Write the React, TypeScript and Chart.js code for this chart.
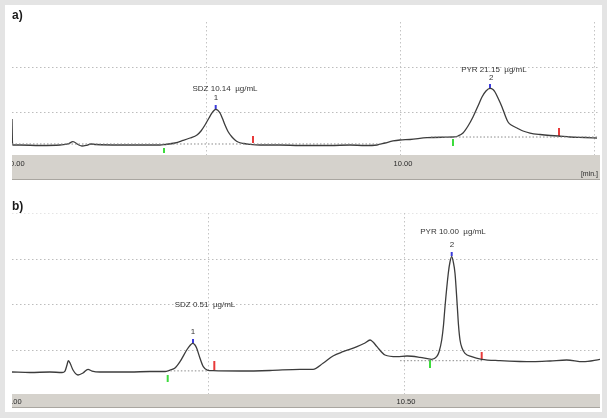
import React, { useEffect, useRef } from "react";
import { Chart, registerables } from "chart.js";

Chart.register(...registerables);

// ---------- Panel a) ----------
const timeA = [0, 0.015, 0.206, 0.722, 1.237, 1.443, 1.572, 1.701, 1.804, 1.907, 2.036, 2.165, 2.784, 3.299, 3.814, 3.943, 4.201, 4.407, 4.588, 4.768, 4.871, 4.974, 5.077, 5.155, 5.206, 5.25, 5.296, 5.361, 5.425, 5.49, 5.567, 5.67, 5.747, 5.825, 5.979, 6.134, 6.392, 6.907, 7.423, 8.196, 8.711, 9.098, 9.407, 9.613, 9.82, 10.0, 10.258, 10.696, 11.16, 11.366, 11.495, 11.624, 11.753, 11.881, 12.01, 12.113, 12.216, 12.32, 12.397, 12.448, 12.526, 12.629, 12.706, 12.784, 12.887, 13.015, 13.17, 13.351, 13.608, 13.866, 14.072, 14.381, 14.768, 15.077];
const signalA = [0.844, 0.267, 0.267, 0.256, 0.267, 0.289, 0.34, 0.278, 0.244, 0.256, 0.289, 0.278, 0.267, 0.267, 0.267, 0.278, 0.311, 0.367, 0.422, 0.489, 0.578, 0.711, 0.867, 0.978, 1.033, 1.06, 1.044, 0.978, 0.856, 0.711, 0.567, 0.444, 0.378, 0.333, 0.3, 0.282, 0.267, 0.267, 0.256, 0.256, 0.267, 0.256, 0.267, 0.311, 0.356, 0.378, 0.389, 0.429, 0.44, 0.444, 0.467, 0.533, 0.689, 0.889, 1.133, 1.333, 1.467, 1.527, 1.5, 1.444, 1.311, 1.111, 0.933, 0.778, 0.7, 0.644, 0.578, 0.533, 0.5, 0.478, 0.467, 0.444, 0.433, 0.422];
const markerTimeA = [3.918, 5.25, 6.211, 11.366, 12.32, 14.098];
const markerLowA = [0.089, 1.067, 0.311, 0.244, 1.533, 0.467];
const markerHighA = [0.2, 1.156, 0.467, 0.4, 1.622, 0.644];
const baseStartA = [0, 10.8];
const baseEndA = [9.5, 15.103];
const baseLevelA = [0.289, 0.444];
const labelTextA = ["SDZ 10.14  \u00b5g/mL", "1", "PYR 21.15  \u00b5g/mL", "2"];
const labelTimeA = [5.49, 5.26, 12.42, 12.35];
const labelLevelA = [1.511, 1.31, 1.933, 1.756];
const xGridA = [5, 10, 15];
const yGridA = [1, 2];
const tickValueA = [0, 10];
const tickTextA = ["0.00", "10.00"];

// ---------- Panel b) ----------
const timeB = [0, 0.459, 0.969, 1.276, 1.352, 1.403, 1.436, 1.48, 1.556, 1.684, 1.811, 1.939, 2.041, 2.245, 3.01, 3.52, 3.903, 4.031, 4.158, 4.286, 4.457, 4.541, 4.61, 4.668, 4.712, 4.796, 4.88, 4.982, 5.135, 5.816, 6.582, 7.347, 7.679, 7.934, 8.189, 8.444, 8.801, 9.005, 9.133, 9.209, 9.311, 9.515, 9.821, 10.077, 10.408, 10.707, 10.834, 10.893, 10.962, 11.008, 11.046, 11.13, 11.173, 11.217, 11.258, 11.301, 11.36, 11.39, 11.429, 11.48, 11.556, 11.727, 11.982, 12.449, 12.959, 13.291, 13.724, 14.15, 14.566, 15.0];
const signalB = [0.505, 0.495, 0.505, 0.495, 0.527, 0.659, 0.754, 0.703, 0.549, 0.44, 0.484, 0.565, 0.527, 0.505, 0.505, 0.516, 0.516, 0.549, 0.593, 0.732, 0.989, 1.088, 1.136, 1.099, 1.026, 0.807, 0.622, 0.549, 0.534, 0.527, 0.538, 0.565, 0.565, 0.697, 0.857, 0.952, 1.062, 1.143, 1.209, 1.165, 1.062, 0.879, 0.842, 0.857, 0.829, 0.785, 0.842, 0.945, 1.209, 1.538, 1.941, 2.675, 2.923, 3.04, 2.923, 2.675, 1.941, 1.538, 1.209, 1.033, 0.916, 0.842, 0.785, 0.754, 0.736, 0.732, 0.747, 0.769, 0.732, 0.785];
const markerTimeB = [3.972, 4.617, 5.161, 10.663, 11.217, 11.982];
const markerLowB = [0.286, 1.143, 0.549, 0.593, 3.055, 0.791];
const markerHighB = [0.44, 1.231, 0.747, 0.769, 3.143, 0.945];
const baseStartB = [3.95, 9.9];
const baseEndB = [5.0, 12.0];
const baseLevelB = [0.53, 0.754];
const labelTextB = ["SDZ 0.51  \u00b5g/mL", "1", "PYR 10.00  \u00b5g/mL", "2"];
const labelTimeB = [4.923, 4.617, 11.25, 11.224];
const labelLevelB = [1.978, 1.391, 3.589, 3.297];
const xGridB = [5, 10];
const yGridB = [1, 2, 3, 4];
const tickValueB = [0, 10];
const tickTextB = ["0.00", "10.50"];

const markerColors = ["#3ddc3d", "#3b3bdc", "#e83a3a", "#3ddc3d", "#3b3bdc", "#e83a3a"];

const FONT = "'Liberation Sans', Arial, sans-serif";

const chromPlugin = {
  id: "chrom",
  beforeDatasetsDraw(chart: any, _a: any, o: any) {
    const { ctx, chartArea: ca } = chart;
    const xs = chart.scales.x;
    const ys = chart.scales.y;
    ctx.save();
    ctx.lineWidth = 1;
    ctx.setLineDash([1.5, 2.5]);
    o.yGrid.forEach((v: number, i: number) => {
      const py = Math.round(ys.getPixelForValue(v)) + 0.5;
      ctx.strokeStyle = o.faintTop && i === o.yGrid.length - 1 ? "#e4e4e4" : "#bdbdbd";
      ctx.beginPath();
      ctx.moveTo(ca.left, py);
      ctx.lineTo(ca.right, py);
      ctx.stroke();
    });
    ctx.strokeStyle = "#c4c4c4";
    o.xGrid.forEach((v: number) => {
      const px = Math.round(xs.getPixelForValue(v)) + 0.5;
      ctx.beginPath();
      ctx.moveTo(px, ca.top);
      ctx.lineTo(px, ca.bottom);
      ctx.stroke();
    });
    ctx.restore();
  },
  afterDatasetsDraw(chart: any, _a: any, o: any) {
    const { ctx, chartArea: ca } = chart;
    const xs = chart.scales.x;
    const ys = chart.scales.y;
    ctx.save();
    // annotation labels
    ctx.fillStyle = "#333";
    ctx.textBaseline = "middle";
    ctx.textAlign = "center";
    o.labelText.forEach((t: string, i: number) => {
      ctx.font = "8px " + FONT;
      ctx.fillText(t, xs.getPixelForValue(o.labelTime[i]), ys.getPixelForValue(o.labelLevel[i]));
    });
    // time-axis band
    const bTop = ca.bottom - o.bandOverlap;
    const bLeft = ca.left;
    const bRight = o.bandRight;
    ctx.fillStyle = "#d5d2cc";
    ctx.fillRect(bLeft, bTop, bRight - bLeft, o.bandHeight);
    ctx.fillStyle = "#a9a6a0";
    ctx.fillRect(bLeft, bTop + o.bandHeight - 1, bRight - bLeft, 1);
    ctx.beginPath();
    ctx.rect(bLeft, bTop, bRight - bLeft, o.bandHeight);
    ctx.clip();
    ctx.fillStyle = "#2a2a2a";
    ctx.font = "7.5px " + FONT;
    ctx.textBaseline = "middle";
    o.tickValue.forEach((v: number, i: number) => {
      ctx.textAlign = i === 0 ? "left" : "center";
      ctx.fillText(o.tickText[i], xs.getPixelForValue(v) + o.tickDx[i], bTop + o.tickDy);
    });
    if (o.unit) {
      ctx.textAlign = "right";
      ctx.font = "7px " + FONT;
      ctx.fillText(o.unit, bRight - 2, bTop + o.bandHeight - 6);
    }
    ctx.restore();
  },
};

function buildConfig(p: any) {
  const datasets: any[] = [];
  p.baseStart.forEach((s: number, i: number) => {
    datasets.push({
      data: [
        { x: s, y: p.baseLevel[i] },
        { x: p.baseEnd[i], y: p.baseLevel[i] },
      ],
      borderColor: "#8a8a8a",
      borderWidth: 1,
      borderDash: [1.5, 2],
      pointRadius: 0,
    });
  });
  datasets.push({
    data: p.time.map((t: number, i: number) => ({ x: t, y: p.signal[i] })),
    borderColor: "#3c3c3c",
    borderWidth: 1.3,
    pointRadius: 0,
    cubicInterpolationMode: "monotone",
  });
  p.markerTime.forEach((t: number, i: number) => {
    datasets.push({
      data: [
        { x: t, y: p.markerLow[i] },
        { x: t, y: p.markerHigh[i] },
      ],
      borderColor: markerColors[i],
      borderWidth: 2,
      pointRadius: 0,
    });
  });
  return {
    type: "line",
    data: { datasets },
    plugins: [chromPlugin],
    options: {
      animation: false,
      responsive: false,
      events: [],
      layout: { padding: p.padding },
      scales: {
        x: { type: "linear", display: false, min: 0, max: p.xMax },
        y: { type: "linear", display: false, min: 0, max: p.yMax },
      },
      plugins: {
        legend: { display: false },
        tooltip: { enabled: false },
        chrom: {
          xGrid: p.xGrid,
          yGrid: p.yGrid,
          faintTop: p.faintTop,
          labelText: p.labelText,
          labelTime: p.labelTime,
          labelLevel: p.labelLevel,
          tickValue: p.tickValue,
          tickText: p.tickText,
          tickDx: p.tickDx,
          tickDy: p.tickDy,
          bandOverlap: p.bandOverlap,
          bandHeight: p.bandHeight,
          bandRight: 600,
          unit: p.unit,
        },
      },
    },
  };
}

export default function App() {
  const refA = useRef<HTMLCanvasElement>(null);
  const refB = useRef<HTMLCanvasElement>(null);

  useEffect(() => {
    const a = new Chart(
      refA.current as HTMLCanvasElement,
      buildConfig({
        time: timeA,
        signal: signalA,
        markerTime: markerTimeA,
        markerLow: markerLowA,
        markerHigh: markerHighA,
        baseStart: baseStartA,
        baseEnd: baseEndA,
        baseLevel: baseLevelA,
        labelText: labelTextA,
        labelTime: labelTimeA,
        labelLevel: labelLevelA,
        xGrid: xGridA,
        yGrid: yGridA,
        faintTop: false,
        tickValue: tickValueA,
        tickText: tickTextA,
        tickDx: [-2, 3],
        tickDy: 9,
        bandOverlap: 2,
        bandHeight: 25,
        unit: "[min.]",
        xMax: 15.103,
        yMax: 3,
        padding: { left: 12, right: 9, top: 22, bottom: 38 },
      }) as any
    );
    const b = new Chart(
      refB.current as HTMLCanvasElement,
      buildConfig({
        time: timeB,
        signal: signalB,
        markerTime: markerTimeB,
        markerLow: markerLowB,
        markerHigh: markerHighB,
        baseStart: baseStartB,
        baseEnd: baseEndB,
        baseLevel: baseLevelB,
        labelText: labelTextB,
        labelTime: labelTimeB,
        labelLevel: labelLevelB,
        xGrid: xGridB,
        yGrid: yGridB,
        faintTop: true,
        tickValue: tickValueB,
        tickText: tickTextB,
        tickDx: [-5, 2],
        tickDy: 8,
        bandOverlap: 1,
        bandHeight: 14,
        unit: "",
        xMax: 15.0,
        yMax: 4,
        padding: { left: 12, right: 7, top: 18, bottom: 23 },
      }) as any
    );
    return () => {
      a.destroy();
      b.destroy();
    };
  }, []);

  const labelStyle: React.CSSProperties = {
    position: "absolute",
    left: 12,
    fontFamily: FONT,
    fontWeight: "bold",
    fontSize: 12,
    color: "#1a1a1a",
    lineHeight: "14px",
  };

  return (
    <div style={{ position: "fixed", left: 0, top: 0, width: 607, height: 418, background: "#e4e4e4", overflow: "hidden" }}>
      <div style={{ position: "absolute", left: 5, top: 5, width: 597, height: 407, background: "#ffffff" }} />
      <canvas ref={refA} width={607} height={195} style={{ position: "absolute", left: 0, top: 0 }} />
      <canvas ref={refB} width={607} height={223} style={{ position: "absolute", left: 0, top: 195 }} />
      <div style={{ ...labelStyle, top: 8 }}>a)</div>
      <div style={{ ...labelStyle, top: 199 }}>b)</div>
    </div>
  );
}
